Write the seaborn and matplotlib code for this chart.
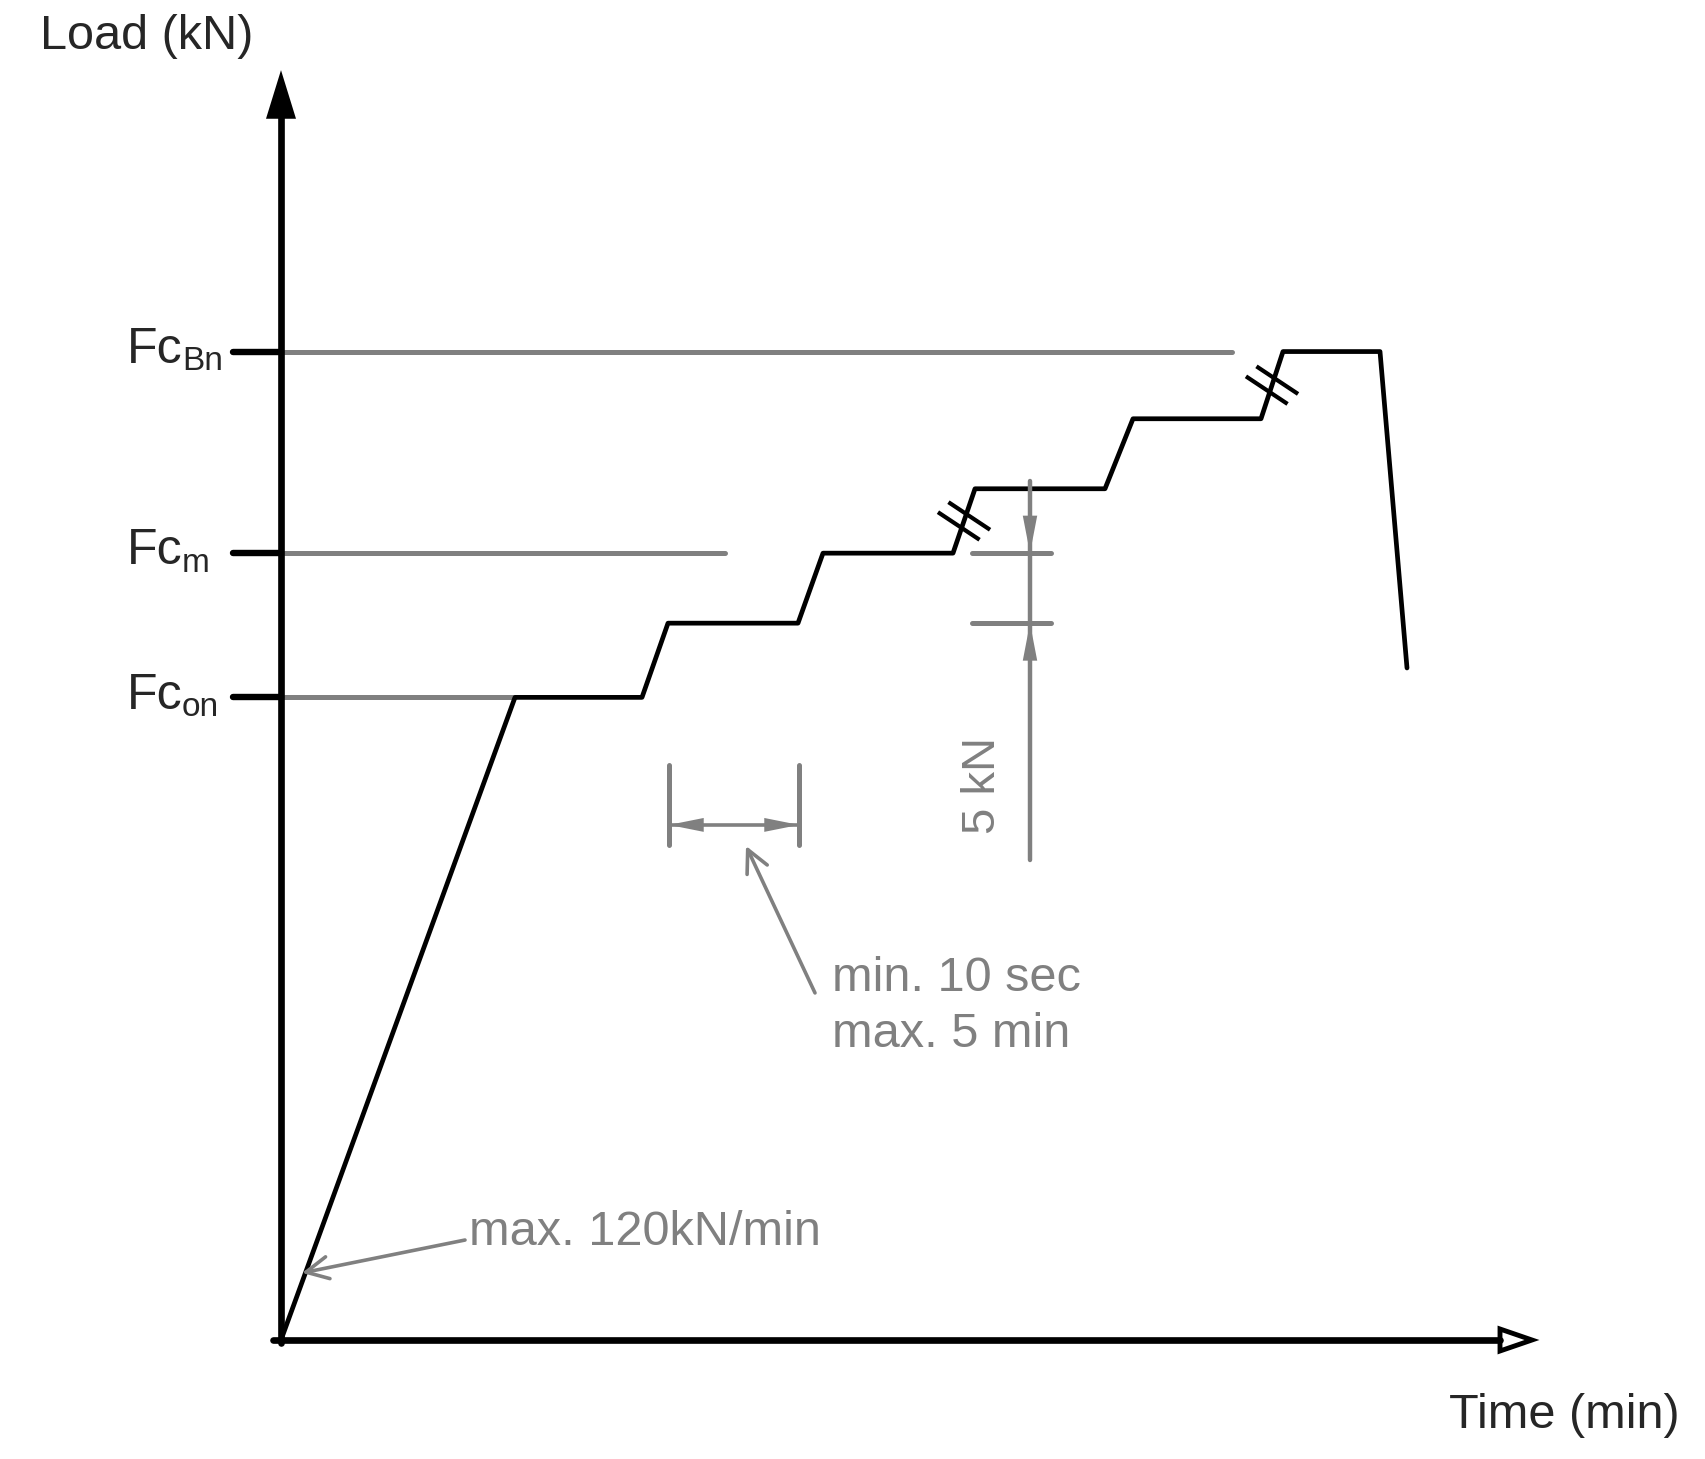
import numpy as np
import pandas as pd
import matplotlib.pyplot as plt
from matplotlib.patches import Polygon
import seaborn as sns

# load path of the staircase test (time in arbitrary units, load in kN-ish units)
time_pts = [0, 23.4, 36.1, 38.7, 51.7, 54.2, 67.2, 69.4, 82.4, 85.2, 98.0, 100.2, 109.9, 112.6]
load_pts = [0, 45.9, 45.9, 51.2, 51.2, 56.2, 56.2, 60.8, 60.8, 65.8, 65.8, 70.6, 70.6, 48.0]

# reference levels and how far their gray guide lines run
level_names = ['Bn', 'm', 'on']
level_values = [70.6, 56.2, 45.9]
level_line_end = [95.1, 44.4, 23.4]

# rising segments that carry a break mark (index of segment start)
break_segments = [6, 10]

GRAY = '#808080'
FONT = ['Liberation Sans', 'DejaVu Sans']
PX_X, PX_Y = 10.0, 14.0   # pixels per data unit

sns.set_style('white')
plt.rcParams['font.family'] = FONT

fig = plt.figure(figsize=(17.06, 14.59), dpi=100)
ax = fig.add_axes([0, 0, 1, 1])
ax.set_xlim(-28.1, 142.5)
ax.set_ylim(-8.5, 95.71)
ax.axis('off')


def seg(x, y, color, lw):
    sns.lineplot(x=x, y=y, sort=False, estimator=None, color=color, lw=lw, ax=ax)


def head(tip, tail, length, width, color):
    # filled arrow head only (no stroke, so the tip lands exactly on 'tip')
    ax.annotate('', xy=tip, xytext=tail,
                arrowprops=dict(arrowstyle=f'-|>,head_length={length},head_width={width}',
                                mutation_scale=1, lw=0, color=color,
                                shrinkA=0, shrinkB=0))


# gray guide lines for the levels + black tick stubs + labels
for name, val, end in zip(level_names, level_values, level_line_end):
    seg([0, end], [val, val], GRAY, 3.6)
    seg([-4.8, 0], [val, val], 'black', 4.6)
    ax.text(-15.4, val - 0.8, 'Fc', fontsize=36, ha='left', va='baseline')
    ax.text(-9.9, val - 1.35, name, fontsize=24, ha='left', va='baseline')

# main load path
df = pd.DataFrame({'time': time_pts, 'load': load_pts})
sns.lineplot(data=df, x='time', y='load', sort=False, estimator=None,
             color='black', lw=3.4, ax=ax)

# break marks on the two long rises
for i in break_segments:
    mx = (time_pts[i] + time_pts[i + 1]) / 2
    my = (load_pts[i] + load_pts[i + 1]) / 2
    d = np.array([20.8 / PX_X, -13.8 / PX_Y])
    off = np.array([5.25 / PX_X, 5.0 / PX_Y])
    for s in (-1, 1):
        c = np.array([mx, my]) + s * off
        ax.plot([c[0] - d[0], c[0] + d[0]], [c[1] - d[1], c[1] + d[1]],
                color='black', lw=3.0, solid_capstyle='butt')

# y axis with filled arrow
y_tip = 90.7
seg([0, 0], [-0.25, y_tip - 3.0], 'black', 4.8)
head((0, y_tip), (0, 0), 35, 10.8, 'black')

# x axis with open triangle arrow
x_base, x_tip = 121.9, 125.1
seg([-0.8, x_base], [0, 0], 'black', 4.8)
ax.add_patch(Polygon([[x_base, 0.786], [x_tip, 0], [x_base, -0.786]], closed=True,
                     fc='white', ec='black', lw=3.5, joinstyle='miter'))

ax.text(-24.1, 93.1, 'Load (kN)', fontsize=35, ha='left', va='center')
ax.text(139.9, -5.36, 'Time (min)', fontsize=35, ha='right', va='center')

# hold-time dimension
for xv in (38.8, 51.8):
    ax.plot([xv, xv], [35.36, 41.07], color=GRAY, lw=3.6)
ax.plot([38.8, 51.8], [36.79, 36.79], color=GRAY, lw=2.6)
head((38.8, 36.79), (45.3, 36.79), 25, 5.0, GRAY)
head((51.8, 36.79), (45.3, 36.79), 25, 5.0, GRAY)

ax.text(55.1, 24.93, 'min. 10 sec', fontsize=35, color=GRAY, ha='left', va='baseline')
ax.text(55.1, 20.93, 'max. 5 min', fontsize=35, color=GRAY, ha='left', va='baseline')
ax.annotate('', xy=(46.5, 35.29), xytext=(53.4, 24.79),
            arrowprops=dict(arrowstyle='->,head_length=16,head_width=8',
                            mutation_scale=1, lw=2.6, color=GRAY,
                            shrinkA=0, shrinkB=0))

# load-step dimension (5 kN)
lo, hi = level_values[1] - 5.0, level_values[1]
for yv in (lo, hi):
    ax.plot([69.1, 77.0], [yv, yv], color=GRAY, lw=3.6)
ax.plot([74.9, 74.9], [34.3, 61.36], color=GRAY, lw=3.2)
head((74.9, hi), (74.9, 61.36), 27, 5.2, GRAY)
head((74.9, lo), (74.9, 34.3), 27, 5.2, GRAY)
ax.text(70.2, 39.6, '5 kN', fontsize=34, color=GRAY, rotation=90,
        ha='center', va='center')

# loading-rate note
ax.text(18.8, 7.7, 'max. 120kN/min', fontsize=35, color=GRAY,
        ha='left', va='center')
ax.annotate('', xy=(2.1, 4.79), xytext=(18.4, 7.14),
            arrowprops=dict(arrowstyle='->,head_length=16,head_width=8',
                            mutation_scale=1, lw=2.6, color=GRAY,
                            shrinkA=0, shrinkB=0))

fig.savefig('out.png', dpi=100, facecolor='white')
